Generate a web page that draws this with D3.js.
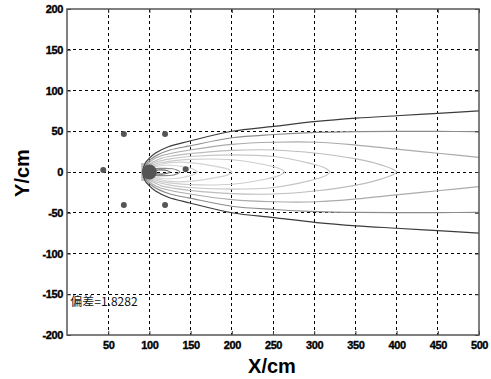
<!DOCTYPE html>
<html>
<head>
<meta charset="utf-8">
<script src="https://cdn.jsdelivr.net/npm/d3@7"></script>
<style>
  body { margin: 0; background: #fff; }
  svg { display: block; }
</style>
</head>
<body>
<div id="chart"></div>
<script>
// axis ticks
const xTicks = [50, 100, 150, 200, 250, 300, 350, 400, 450, 500];
const yTicks = [-200, -150, -100, -50, 0, 50, 100, 150, 200];

// source and sensor points
const source = [100, 0];
const sensors = [[44, 2.5], [69, 46.5], [119, 46.5], [69, -40.5], [119, -40.5], [144, 3.5]];

// contour lines: [x, half width]
const contourA = [[92,0],[95,11],[100,17],[107,23],[123,31],[149,38],[200,50],[251,56],[303,62],[351,66],[400,69],[450,72],[500,75]];
const contourB = [[93,0],[97,11],[102,16],[110,21],[125,27],[149,32],[200,42],[251,46],[303,48.5],[351,49.5],[400,49.8],[450,49.8],[500,49.5]];
const contourC = [[94,0],[98,10],[104,15],[112,19],[127,23],[149,27],[200,34],[251,36.5],[303,36.5],[351,33],[400,28],[450,23],[500,18]];
const contourD = [[95,0],[99,9],[106,13],[115,17],[130,20],[149,22.5],[200,26.5],[251,27],[303,23],[351,16],[380,9],[400,0]];
const contourE = [[96,0],[100,8],[108,12],[125,16],[149,19],[200,21],[251,19],[295,10.5],[313,5],[319,0]];
const contourF = [[97,0],[101,7],[110,10.5],[130,14],[149,15.5],[200,15],[242,8.6],[257,4.5],[264,0]];
const contourG = [[98,0],[102,6],[112,9],[125,11.5],[149,11.5],[182,6.5],[195,3.5],[200,0]];
const contourH = [[99,0],[103,5],[117,8],[130,8],[141,6.5],[153,3.5],[158,0]];
const contourI = [[100,0],[104,3.5],[115,4.5],[128,4],[134,2],[137,0]];
const contourJ = [[101,0],[106,2],[115,2.5],[122,1.5],[125,0]];

const contours = [
  { pts: contourA, open: true,  color: '#3c3c3c' },
  { pts: contourB, open: true,  color: '#8c8c8c' },
  { pts: contourC, open: true,  color: '#ababab' },
  { pts: contourD, open: false, color: '#bdbdbd' },
  { pts: contourE, open: false, color: '#c6c6c6' },
  { pts: contourF, open: false, color: '#cdcdcd' },
  { pts: contourG, open: false, color: '#d2d2d2' },
  { pts: contourH, open: false, color: '#d6d6d6' },
  { pts: contourI, open: false, color: '#8a8a8a' },
  { pts: contourJ, open: false, color: '#666666' }
];

const deviationText = '偏差=1.8282';

const W = 491, H = 379;
const margin = { top: 9, right: 12, bottom: 44, left: 67 };
const width = W - margin.left - margin.right;
const height = H - margin.top - margin.bottom;

const svg = d3.select('#chart').append('svg')
  .attr('width', W)
  .attr('height', H);

const g = svg.append('g')
  .attr('transform', `translate(${margin.left},${margin.top})`);

const x = d3.scaleLinear().domain([0, 500]).range([0, width]);
const y = d3.scaleLinear().domain([-200, 200]).range([height, 0]);

// grid
g.append('g').selectAll('line').data(xTicks.filter(d => d < 500)).join('line')
  .attr('x1', d => x(d)).attr('x2', d => x(d))
  .attr('y1', 0).attr('y2', height)
  .attr('stroke', '#000').attr('stroke-dasharray', '3,3').attr('stroke-width', 1)
  .attr('shape-rendering', 'crispEdges');
g.append('g').selectAll('line').data(yTicks.filter(d => d > -200 && d < 200)).join('line')
  .attr('x1', 0).attr('x2', width)
  .attr('y1', d => y(d)).attr('y2', d => y(d))
  .attr('stroke', '#000').attr('stroke-dasharray', '3,3').attr('stroke-width', 1)
  .attr('shape-rendering', 'crispEdges');

// shaded patch at the source
g.append('rect')
  .attr('x', x(90)).attr('y', y(11))
  .attr('width', x(104) - x(90)).attr('height', y(-11) - y(11))
  .attr('fill', '#bdbdbd');

// contours
const line = d3.line().x(d => x(d[0])).y(d => y(d[1]));
contours.forEach(c => {
  const upper = c.pts.map(p => [p[0], p[1]]);
  const lower = c.pts.map(p => [p[0], -p[1]]);
  let pts, curve;
  if (c.open) {
    pts = upper.slice().reverse().concat(lower.slice(1));
    curve = d3.curveCatmullRom;
  } else {
    pts = upper.concat(lower.slice(1, -1).reverse());
    curve = d3.curveCatmullRomClosed;
  }
  g.append('path')
    .attr('d', line.curve(curve)(pts))
    .attr('fill', 'none')
    .attr('stroke', c.color)
    .attr('stroke-width', 1.2);
});

// sensors and source
g.selectAll('.sensor').data(sensors).join('circle')
  .attr('class', 'sensor')
  .attr('cx', d => x(d[0])).attr('cy', d => y(d[1]))
  .attr('r', 3).attr('fill', '#555');
g.append('circle')
  .attr('cx', x(source[0])).attr('cy', y(source[1]))
  .attr('r', 7.5).attr('fill', '#555');

// axes
const fmt = d => String(d);
const xAxis = g.append('g')
  .attr('transform', `translate(0,${height})`)
  .call(d3.axisBottom(x).tickValues(xTicks).tickSizeInner(-4).tickSizeOuter(0).tickPadding(6).tickFormat(fmt));
const yAxis = g.append('g')
  .call(d3.axisLeft(y).tickValues(yTicks).tickSizeInner(-4).tickSizeOuter(0).tickPadding(4).tickFormat(fmt));
const xTop = g.append('g')
  .call(d3.axisTop(x).tickValues(xTicks).tickSizeInner(-4).tickSizeOuter(0).tickFormat(''));
const yRight = g.append('g')
  .attr('transform', `translate(${width},0)`)
  .call(d3.axisRight(y).tickValues(yTicks).tickSizeInner(-4).tickSizeOuter(0).tickFormat(''));
[xAxis, yAxis, xTop, yRight].forEach(a => {
  a.select('.domain').remove();
  a.selectAll('.tick line').attr('stroke', '#333');
  a.selectAll('.tick text')
    .attr('font-family', '"Liberation Sans", Arial, sans-serif')
    .attr('font-weight', 'bold')
    .attr('font-size', 11)
    .attr('letter-spacing', '-0.4')
    .attr('fill', '#000')
    .attr('stroke', '#000')
    .attr('stroke-width', 0.35);
});

g.append('rect')
  .attr('x', 0).attr('y', 0).attr('width', width).attr('height', height)
  .attr('fill', 'none').attr('stroke', '#555').attr('stroke-width', 1.5);

// labels
g.append('text')
  .attr('x', x(4)).attr('y', y(-165))
  .attr('font-family', '"Noto Sans CJK SC", sans-serif')
  .attr('font-size', 12).attr('fill', '#111')
  .text(deviationText);

svg.append('text')
  .attr('x', 272).attr('y', 373)
  .attr('text-anchor', 'middle')
  .attr('font-family', '"Liberation Sans", Arial, sans-serif')
  .attr('font-weight', 'bold').attr('font-size', 20)
  .text('X/cm');

svg.append('text')
  .attr('transform', 'translate(29,173) rotate(-90)')
  .attr('text-anchor', 'middle')
  .attr('font-family', '"Liberation Sans", Arial, sans-serif')
  .attr('font-weight', 'bold').attr('font-size', 20)
  .text('Y/cm');
</script>
</body>
</html>
